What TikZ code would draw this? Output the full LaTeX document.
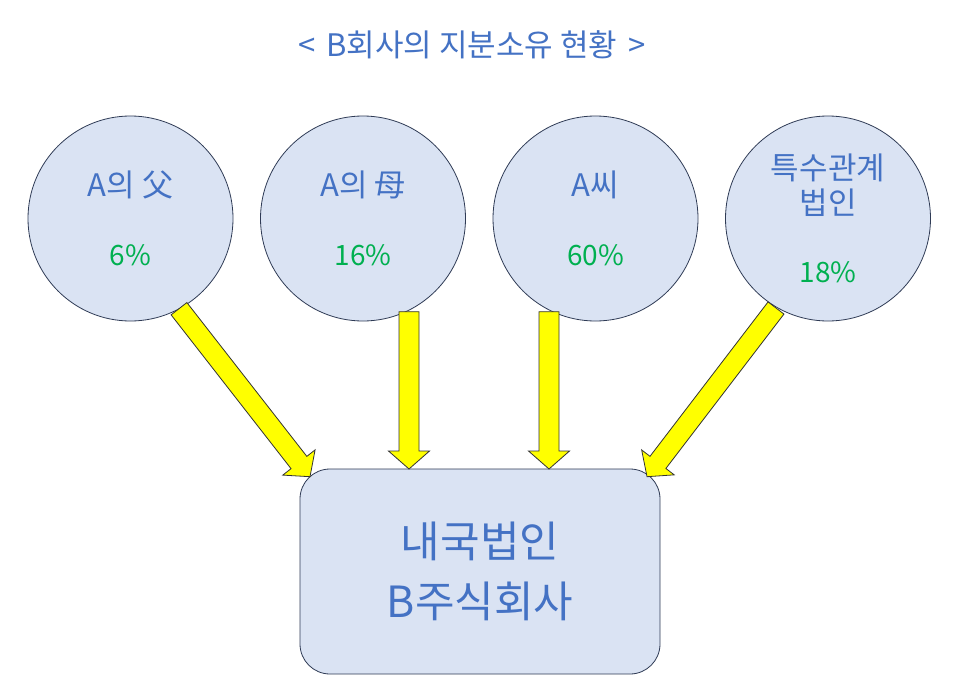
\documentclass[tikz,border=0pt]{standalone}
\usepackage{fontspec}
\setmainfont{Noto Sans CJK KR}
\usetikzlibrary{calc}
\definecolor{txtblue}{HTML}{4472C4}
\definecolor{txtgreen}{HTML}{00B050}
\definecolor{shapefill}{HTML}{DAE3F3}
\definecolor{shapeline}{HTML}{2F3B55}
\definecolor{arrowfill}{HTML}{FFFF00}
\definecolor{arrowline}{HTML}{333333}
\tikzset{
  owner/.style={circle, draw=shapeline, fill=shapefill, line width=0.8pt, minimum size=205pt, inner sep=0pt},
  company/.style={rectangle, rounded corners=30pt, draw=shapeline, fill=shapefill, line width=0.8pt,
    minimum width=360pt, minimum height=205pt, align=center, text=txtblue,
    font=\fontsize{43}{60}\selectfont},
  nametext/.style={text=txtblue, align=center, inner sep=0pt, font=\fontsize{31}{35}\selectfont},
  pcttext/.style={text=txtgreen, inner sep=0pt, font=\fontsize{28}{33}\selectfont},
  titletext/.style={text=txtblue, inner sep=0pt, font=\fontsize{31}{35}\selectfont},
  flowarrow/.style={draw=arrowline, fill=arrowfill, line width=0.8pt, line join=miter}
}
\newcommand\blockarrow[2]{%
  \coordinate (#1base) at ($(#2)!18pt!(#1)$);
  \draw[flowarrow] ($(#1)!10pt!90:(#2)$) -- ($(#1base)!10pt!-90:(#1)$)
    -- ($(#1base)!20.5pt!-90:(#1)$) -- (#2) -- ($(#1base)!20.5pt!90:(#1)$)
    -- ($(#1base)!10pt!90:(#1)$) -- ($(#1)!10pt!-90:(#2)$) -- cycle;%
}
\begin{document}
\begin{tikzpicture}[x=1pt,y=-1pt]
\useasboundingbox (0,0) rectangle (961,698);
\fill[white] (0,0) rectangle (961,698);

\node[titletext] (title) at (472,45) {<\hspace{0.12em} B회사의 지분소유 현황\hspace{0.12em} >};

\node[owner] (c1) at (130.5,218.5) {};
\node[owner] (c2) at (363,218.5) {};
\node[owner] (c3) at (595.5,218.5) {};
\node[owner] (c4) at (828,218.5) {};

\node[nametext] (n1) at (130.5,185) {A의 父};
\node[pcttext] (p1) at (130.5,255) {6\%};
\node[nametext] (n2) at (363,185) {A의 母};
\node[pcttext] (p2) at (363,255) {16\%};
\node[nametext] (n3) at (595.5,185) {A씨};
\node[pcttext] (p3) at (595.5,255) {60\%};
\node[nametext] (n4) at (828,185.5) {특수관계\\법인};
\node[pcttext] (p4) at (828,272) {18\%};

\node[company] (box) at (480,571.5) {내국법인\\B주식회사};

\coordinate (t1) at (179,308.7);
\coordinate (h1) at (310,476.7);
\coordinate (t2) at (409,311.7);
\coordinate (h2) at (409,469);
\coordinate (t3) at (549,311.7);
\coordinate (h3) at (549,469);
\coordinate (t4) at (776,308);
\coordinate (h4) at (647,476.7);

\blockarrow{t1}{h1}
\blockarrow{t2}{h2}
\blockarrow{t3}{h3}
\blockarrow{t4}{h4}
\end{tikzpicture}
\end{document}
